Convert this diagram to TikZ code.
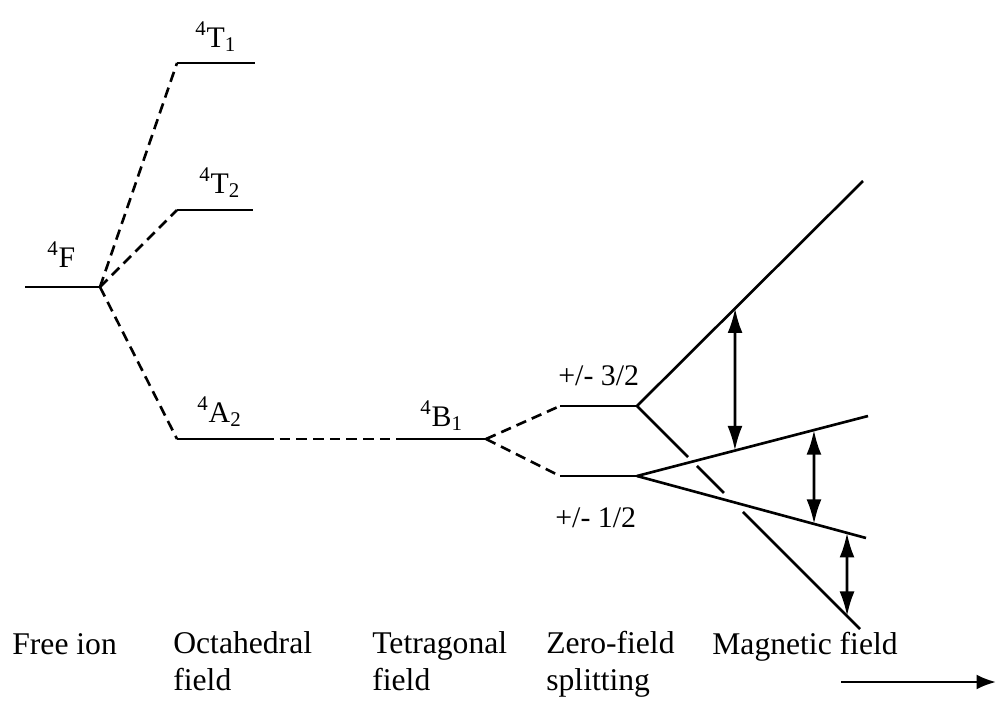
\documentclass[tikz,border=0pt]{standalone}
\usepackage{fontspec}
\setmainfont{Liberation Serif}
\usetikzlibrary{arrows.meta,calc,positioning}
\tikzset{
  level/.style={line width=1.5pt},
  link/.style={line width=1.5pt,dash pattern=on 6pt off 3.5pt},
  split/.style={{Latex[length=14pt,width=8.5pt]}-{Latex[length=14pt,width=8.5pt]},line width=1.5pt},
  term/.style={anchor=base west,inner sep=0pt},
  stage/.style={anchor=base west,inner sep=0pt,align=left,font=\fontsize{18}{20.5}\selectfont},
}

\begin{document}
\begin{tikzpicture}[x=0.02cm,y=-0.02cm,font=\fontsize{17}{20.5}\selectfont]
\useasboundingbox (0,0) rectangle (998,704);
% level ends
\coordinate (F-l) at (25,287);   \coordinate (F-r) at (100,287);
\coordinate (T1-l) at (177,63);  \coordinate (T1-r) at (255,63);
\coordinate (T2-l) at (177,210); \coordinate (T2-r) at (253,210);
\coordinate (A2-l) at (177,439); \coordinate (A2-r) at (263,439);
\coordinate (B1-l) at (396,439); \coordinate (B1-r) at (486,439);
\coordinate (zA-l) at (560,406); \coordinate (zA-r) at (637,406);
\coordinate (zB-l) at (560,476); \coordinate (zB-r) at (637,476);
\coordinate (mA-up) at (863,181); \coordinate (mA-lo) at (860,629);
\coordinate (mB-up) at (868,416); \coordinate (mB-lo) at (866,538);
% terms
\node[term] (F)  at (47,267)  {\textsuperscript{4}F};
\node[term] (T1) at (195,47)  {\textsuperscript{4}T\textsubscript{1}};
\node[term] (T2) at (199,193) {\textsuperscript{4}T\textsubscript{2}};
\node[term] (A2) at (197,422) {\textsuperscript{4}A\textsubscript{2}};
\node[term] (B1) at (420,426) {\textsuperscript{4}B\textsubscript{1}};
\node[term] (mj3) at (558,385) {+/- 3/2};
\node[term] (mj1) at (555,527) {+/- 1/2};
% levels
\draw[level] (F-l) -- (F-r);
\draw[level] (T1-l) -- (T1-r);
\draw[level] (T2-l) -- (T2-r);
\draw[level] (A2-l) -- (A2-r);
\draw[level] (B1-l) -- (B1-r);
\draw[level] (zA-l) -- (zA-r);
\draw[level] (zB-l) -- (zB-r);
% correlations
\draw[link] (F-r) -- (T1-l);
\draw[link] (F-r) -- (T2-l);
\draw[link] (F-r) -- (A2-l);
\draw[link] (A2-r) -- (B1-l);
\draw[link] (B1-r) -- (zA-l);
\draw[link] (B1-r) -- (zB-l);
% Zeeman lines
\draw[level] (zA-r) -- (mA-up);
\draw[level] (zB-r) -- (mB-up);
\draw[level] (zB-r) -- (mB-lo);
\coordinate (g1a) at ($(zA-r)!0.229!(mA-lo)$);
\coordinate (g1b) at ($(zA-r)!0.269!(mA-lo)$);
\coordinate (g2a) at ($(zA-r)!0.39!(mA-lo)$);
\coordinate (g2b) at ($(zA-r)!0.475!(mA-lo)$);
\draw[level] (zA-r) -- (g1a);
\draw[level] (g1b) -- (g2a);
\draw[level] (g2b) -- (mA-lo);
% transitions
\coordinate (t1a) at ($(zA-r)!0.434!(mA-up)$);
\coordinate (t1b) at ($(zB-r)!0.424!(mB-up)$);
\coordinate (t2a) at ($(zB-r)!0.766!(mB-up)$);
\coordinate (t2b) at ($(zB-r)!0.773!(mB-lo)$);
\coordinate (t3a) at ($(zB-r)!0.917!(mB-lo)$);
\coordinate (t3b) at ($(zA-r)!0.942!(mA-lo)$);
\draw[split] (t1a) -- (t1b);
\draw[split] (t2a) -- (t2b);
\draw[split] (t3a) -- (t3b);
% stages
\node[stage] (free) at (12,654)  {Free ion};
\node[stage] (oct)  at (173,690) {Octahedral\\field};
\node[stage] (tet)  at (372,690) {Tetragonal\\field};
\node[stage] (zfs)  at (546,690) {Zero-field\\splitting};
\node[stage] (mag)  at (712,654) {Magnetic field};
\coordinate (B-s) at (841,682); \coordinate (B-e) at (996,682);
\draw[line width=1.5pt,-{Latex[length=11pt,width=8.5pt]}] (B-s) -- (B-e);
\end{tikzpicture}
\end{document}
